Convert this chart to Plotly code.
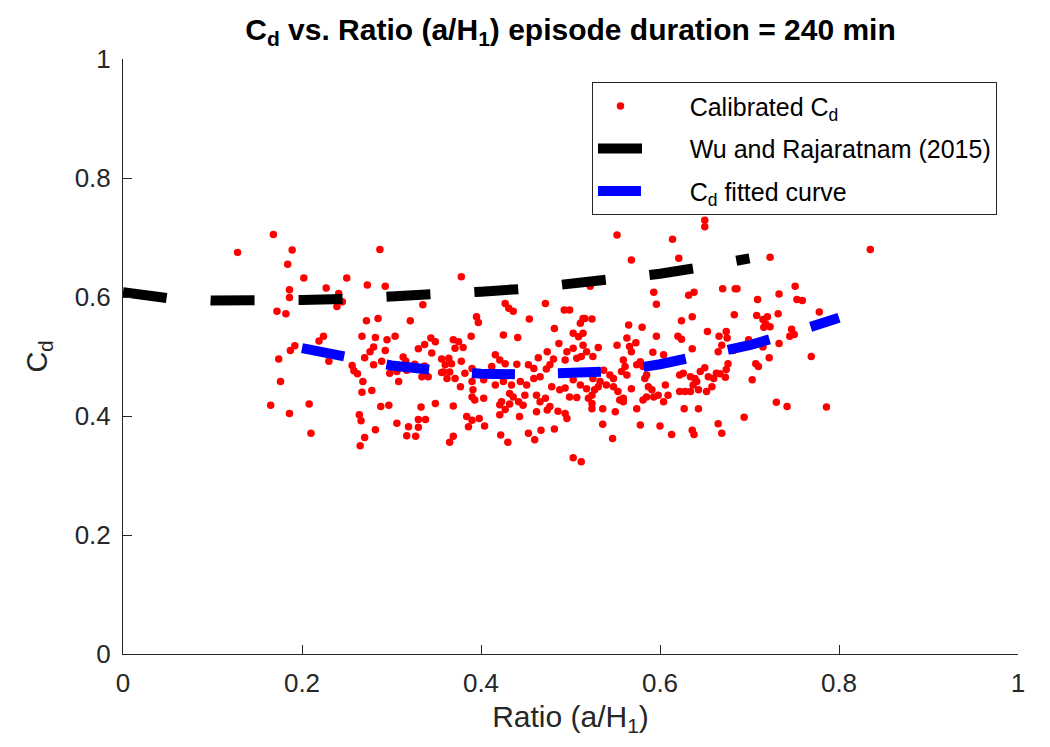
import plotly.graph_objects as go

# Calibrated Cd scatter points (ratio a/H1, Cd)
x_cal = [0.168,0.128,0.189,0.184,0.202,0.186,0.186,0.172,0.182,0.192,0.187,0.174,0.176,0.165,0.186,
         0.210,0.208,0.230,0.224,0.219,0.227,0.250,0.241,0.245,0.239,0.273,0.287,
         0.272,0.285,0.267,0.282,0.280,0.276,0.270,0.280,0.256,0.258,0.262,0.268,0.267,0.278,0.264,0.266,0.282,0.270,0.265,
         0.293,0.335,0.321,0.295,0.304,0.293,0.289,0.288,0.297,0.313,0.330,0.337,0.344,0.349,0.345,0.356,0.356,0.316,0.326,0.337,0.298,0.308,0.334,0.341,0.306,0.317,0.349,0.333,0.306,0.319,0.330,0.338,0.330,0.317,0.327,
         0.378,0.427,0.431,0.436,0.472,0.395,0.397,0.454,0.493,0.499,0.389,0.425,0.441,0.482,0.487,0.369,0.375,0.371,0.380,
         0.364,0.360,0.367,0.358,0.365,0.371,0.362,
         0.377,0.378,0.382,0.390,0.416,0.421,0.412,0.427,0.440,0.453,0.459,0.464,0.474,0.481,0.477,0.473,0.494,
         0.403,0.416,0.425,0.434,0.444,0.390,0.391,0.451,0.459,0.466,0.479,0.488,0.494,0.499,0.507,0.432,0.436,0.390,0.393,0.403,0.423,0.432,0.442,0.449,0.462,0.466,0.472,0.421,0.427,0.369,0.447,0.462,0.477,0.474,0.486,0.494,0.496,0.421,0.443,0.384,0.390,0.386,0.398,0.404,0.482,0.467,0.453,0.422,0.430,0.460,0.369,0.365,0.503,0.512,0.511,0.514,0.503,0.509,0.514,0.496,0.503,0.507,0.512,0.503,0.511,
         0.650,0.650,0.552,0.614,0.568,0.621,0.522,0.593,0.596,0.632,0.638,0.670,0.516,0.524,0.565,0.580,0.624,0.636,0.653,0.514,0.518,0.525,0.531,0.563,0.566,0.573,0.568,0.552,0.596,0.620,0.624,0.592,0.604,0.636,0.666,0.669,0.665,
         0.559,0.561,0.557,0.563,0.574,0.578,0.581,0.585,0.583,0.537,0.544,0.548,0.540,0.525,0.533,0.531,0.518,0.524,0.520,0.548,0.553,0.568,0.587,0.591,0.585,0.593,0.598,0.606,0.609,0.604,0.559,0.555,0.581,
         0.622,0.626,0.634,0.639,0.645,0.650,0.654,0.660,0.663,0.622,0.628,0.634,0.643,0.652,0.658,0.637,0.641,0.524,0.524,0.536,0.550,0.574,0.627,0.643,0.536,0.578,0.600,0.613,0.636,0.638,0.547,0.665,0.669,0.527,0.559,
         0.694,0.703,0.674,0.676,0.674,0.675,0.683,0.708,0.720,0.718,0.723,0.707,0.710,0.722,0.732,0.733,0.745,0.750,0.747,0.769,0.778,0.730,0.742,0.786,0.835,0.723,0.684,0.686,0.709,0.733,0.751,0.753,0.759,0.716,0.682,0.715,0.715,0.699,0.673,0.667]
y_cal = [0.705,0.675,0.679,0.655,0.632,0.612,0.599,0.576,0.572,0.518,0.510,0.496,0.458,0.418,0.404,
         0.371,0.420,0.492,0.534,0.526,0.615,0.632,0.606,0.592,0.584,0.620,0.680,
         0.560,0.564,0.534,0.532,0.516,0.508,0.498,0.486,0.485,0.476,0.471,0.458,0.440,0.443,0.402,0.392,0.377,0.364,0.350,
         0.618,0.587,0.560,0.528,0.534,0.510,0.492,0.416,0.418,0.499,0.513,0.520,0.531,0.525,0.506,0.496,0.473,0.492,0.487,0.484,0.472,0.458,0.466,0.466,0.475,0.477,0.421,0.415,0.388,0.382,0.394,0.394,0.381,0.367,0.366,
         0.634,0.589,0.581,0.576,0.589,0.567,0.557,0.563,0.578,0.578,0.534,0.536,0.532,0.547,0.522,0.528,0.525,0.514,0.515,
         0.497,0.486,0.488,0.474,0.474,0.463,0.463,
         0.449,0.492,0.472,0.480,0.503,0.494,0.483,0.488,0.487,0.486,0.480,0.498,0.508,0.496,0.486,0.479,0.494,
         0.461,0.452,0.458,0.452,0.458,0.458,0.444,0.452,0.463,0.466,0.449,0.444,0.447,0.432,0.431,0.438,0.432,0.432,0.427,0.430,0.424,0.420,0.424,0.435,0.435,0.424,0.430,0.419,0.411,0.417,0.418,0.407,0.416,0.410,0.408,0.404,0.396,0.402,0.399,0.399,0.393,0.382,0.396,0.383,0.378,0.376,0.371,0.368,0.356,0.360,0.366,0.356,0.330,0.323,0.556,0.564,0.539,0.533,0.539,0.508,0.514,0.497,0.500,0.461,0.452,
         0.729,0.718,0.704,0.697,0.662,0.665,0.618,0.608,0.588,0.603,0.608,0.614,0.564,0.563,0.553,0.549,0.560,0.567,0.542,0.519,0.508,0.500,0.515,0.531,0.517,0.523,0.508,0.519,0.534,0.534,0.529,0.507,0.503,0.513,0.534,0.519,0.508,
         0.494,0.483,0.475,0.469,0.486,0.491,0.483,0.469,0.463,0.477,0.469,0.463,0.452,0.463,0.458,0.449,0.446,0.435,0.430,0.449,0.441,0.446,0.449,0.444,0.432,0.432,0.435,0.452,0.435,0.424,0.430,0.427,0.427,
         0.469,0.472,0.466,0.463,0.475,0.481,0.466,0.463,0.472,0.441,0.441,0.441,0.444,0.441,0.449,0.452,0.458,0.421,0.412,0.412,0.407,0.412,0.412,0.412,0.386,0.385,0.383,0.369,0.376,0.369,0.362,0.387,0.371,0.444,0.424,
         0.398,0.461,0.478,0.488,0.542,0.531,0.570,0.569,0.567,0.555,0.550,0.488,0.483,0.498,0.572,0.522,0.534,0.537,0.546,0.500,0.575,0.423,0.416,0.415,0.680,0.667,0.614,0.614,0.596,0.605,0.618,0.596,0.594,0.549,0.510,0.562,0.516,0.528,0.465,0.471]

# Wu and Rajaratnam (2015) curve
x_wu = [0.0, 0.05, 0.1, 0.15, 0.2, 0.25, 0.3, 0.35, 0.4, 0.45, 0.5, 0.55, 0.6, 0.65, 0.7]
y_wu = [0.608, 0.598, 0.594, 0.593, 0.595, 0.597, 0.600, 0.604, 0.609, 0.614, 0.621, 0.629, 0.639, 0.651, 0.665]

# Cd fitted curve
x_fit = [0.2, 0.25, 0.3, 0.35, 0.4, 0.45, 0.5, 0.55, 0.6, 0.65, 0.7, 0.75, 0.8]
y_fit = [0.514, 0.499, 0.485, 0.477, 0.471, 0.470, 0.471, 0.475, 0.487, 0.501, 0.519, 0.541, 0.565]

x_ticks = [0, 0.2, 0.4, 0.6, 0.8, 1]
y_ticks = [0, 0.2, 0.4, 0.6, 0.8, 1]

legend_names = ["Calibrated C<sub>d</sub>", "Wu and Rajaratnam (2015)", "C<sub>d</sub> fitted curve"]

FONT = "Liberation Sans, Arial, Helvetica, sans-serif"
AX = "#262626"
PAD = "&nbsp;" * 6

fig = go.Figure()
fig.add_trace(go.Scatter(x=x_cal, y=y_cal, mode="markers", name=PAD + legend_names[0],
                         legendgroup="a",
                         marker=dict(color="#ff0000", size=7.5, line=dict(width=0))))
fig.add_trace(go.Scatter(x=x_wu, y=y_wu, mode="lines", name=PAD + legend_names[1],
                         legendgroup="b",
                         line=dict(color="#000000", width=10, dash="44px,44px")))
fig.add_trace(go.Scatter(x=x_fit, y=y_fit, mode="lines", name=PAD + legend_names[2],
                         legendgroup="c",
                         line=dict(color="#0000ff", width=10, dash="43px,43px")))

fig.update_layout(
    width=1050, height=747,
    margin=dict(l=115, r=40, t=51, b=101),
    paper_bgcolor="white", plot_bgcolor="white",
    font=dict(family=FONT, color=AX),
    title=dict(text="<b>C<sub>d</sub> vs. Ratio (a/H<sub>1</sub>) episode duration = 240 min</b>",
               x=(115 + 895 / 2) / 1050, xanchor="center", y=0.971, yanchor="middle",
               font=dict(family=FONT, size=30, color="#000000")),
    showlegend=True,
    legend=dict(x=0.524, y=0.961, xanchor="left", yanchor="top",
                bgcolor="white", bordercolor=AX, borderwidth=1,
                font=dict(family=FONT, size=25, color="#000000"),
                traceorder="grouped", tracegroupgap=7, itemwidth=45),
)
fig.update_xaxes(range=[0, 1], tickvals=x_ticks, ticks="inside", ticklen=9, tickcolor=AX,
                 showline=True, linecolor=AX, linewidth=1, mirror=False, showgrid=False, zeroline=False,
                 tickfont=dict(family=FONT, size=26, color=AX), ticklabelstandoff=6,
                 title=dict(text="Ratio (a/H<sub>1</sub>)", font=dict(family=FONT, size=30, color=AX), standoff=8))
fig.update_yaxes(range=[0, 1], tickvals=y_ticks, ticks="inside", ticklen=9, tickcolor=AX,
                 showline=True, linecolor=AX, linewidth=1, mirror=False, showgrid=False, zeroline=False,
                 tickfont=dict(family=FONT, size=26, color=AX), ticklabelstandoff=6,
                 title=dict(text="C<sub>d</sub>", font=dict(family=FONT, size=29, color=AX), standoff=18))

fig.write_html("out.html")
